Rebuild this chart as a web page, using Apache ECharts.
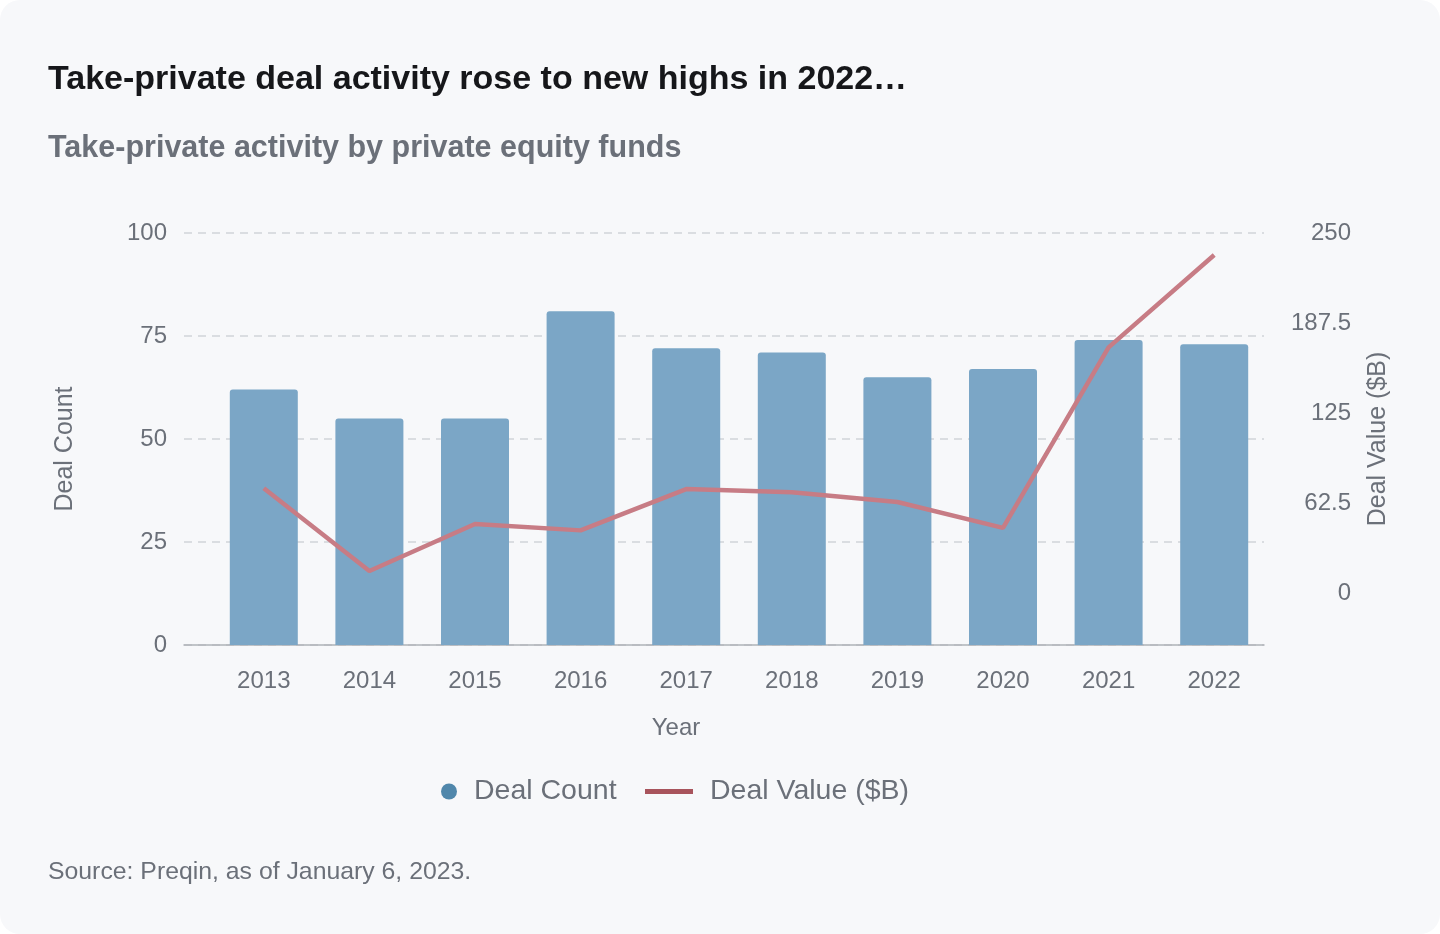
<!DOCTYPE html>
<html>
<head>
<meta charset="utf-8">
<script src="https://cdn.jsdelivr.net/npm/echarts@6/dist/echarts.min.js"></script>
<style>
  html, body { margin: 0; padding: 0; background: #ffffff; }
  #card { width: 1440px; height: 934px; background: #f7f8fa; border-radius: 20px; overflow: hidden; }
  #chart { width: 1440px; height: 934px; }
</style>
</head>
<body>
<div id="card"><div id="chart"></div></div>
<script>
const years = ['2013', '2014', '2015', '2016', '2017', '2018', '2019', '2020', '2021', '2022'];
const dealCount = [62, 55, 55, 81, 72, 71, 65, 67, 74, 73];
const dealValue = [72.7, 15.3, 47.9, 43.5, 72.2, 69.9, 63.2, 45.2, 170.6, 234.7];
const leftTicks = [0, 25, 50, 75, 100];
const rightTicks = [0, 62.5, 125, 187.5, 250];

const FONT = "'Liberation Sans', Arial, Helvetica, sans-serif";
const GRAY = '#6b7079';
const RIGHT_MIN = -36.1;

const chart = echarts.init(document.getElementById('chart'), null, { renderer: 'canvas' });
chart.setOption({
  backgroundColor: 'transparent',
  textStyle: { fontFamily: FONT },
  title: [
    { text: 'Take-private deal activity rose to new highs in 2022…', left: 48, top: 63, padding: 0,
      textStyle: { fontSize: 34, fontWeight: 'bold', color: '#16171a', fontFamily: FONT } },
    { text: 'Take-private activity by private equity funds', left: 48, top: 133, padding: 0,
      textStyle: { fontSize: 30.5, fontWeight: 'bold', color: GRAY, fontFamily: FONT } },
    { text: 'Source: Preqin, as of January 6, 2023.', left: 48, top: 860, padding: 0,
      textStyle: { fontSize: 24.8, fontWeight: 'normal', color: GRAY, fontFamily: FONT } }
  ],
  legend: [
    { data: [{ name: 'Deal Count', icon: 'circle', itemStyle: { color: '#5087ab' } }],
      left: 441, top: 777, padding: 0, itemWidth: 16, itemHeight: 16, selectedMode: false,
      textStyle: { fontSize: 28.5, color: GRAY, fontFamily: FONT, padding: [0, 0, 0, 12] } },
    { data: [{ name: 'Deal Value ($B)', icon: 'rect', itemStyle: { color: '#a8545c' } }],
      left: 645, top: 777, padding: 0, itemWidth: 48, itemHeight: 5, selectedMode: false,
      textStyle: { fontSize: 28.5, color: GRAY, fontFamily: FONT, padding: [0, 0, 0, 12] } }
  ],
  grid: [
    { left: 184, width: 1080, top: 233, height: 412, containLabel: false },
    { left: 211, width: 1056, top: 233, height: 412, containLabel: false }
  ],
  xAxis: [
    { type: 'value', gridIndex: 0, min: 0, max: 1,
      axisLine: { show: true, lineStyle: { color: '#aeb2b8', width: 1.5 } },
      axisTick: { show: false }, axisLabel: { show: false }, splitLine: { show: false } },
    { type: 'category', gridIndex: 1, data: years,
      axisLine: { show: false }, axisTick: { show: false },
      axisLabel: { fontSize: 24, color: GRAY, margin: 24, fontFamily: FONT },
      name: 'Year', nameLocation: 'middle', nameGap: 71,
      nameTextStyle: { fontSize: 24, color: GRAY, fontFamily: FONT, padding: [0, 126, 0, 0] } }
  ],
  yAxis: [
    { type: 'value', gridIndex: 0, position: 'left', min: 0, max: 100, interval: 25,
      axisLine: { show: false }, axisTick: { show: false },
      axisLabel: { fontSize: 24, color: GRAY, margin: 17, fontFamily: FONT, customValues: leftTicks },
      splitLine: { show: true, lineStyle: { color: '#d1d4d9', width: 1.5, type: [8, 6] } },
      name: 'Deal Count', nameLocation: 'middle', nameGap: 106,
      nameTextStyle: { fontSize: 25, color: GRAY, fontFamily: FONT, padding: [0, 20, 0, 0] } },
    { type: 'value', gridIndex: 0, position: 'right', min: RIGHT_MIN, max: 250,
      axisLine: { show: false }, axisTick: { show: false },
      axisLabel: { fontSize: 24, color: GRAY, margin: 87, align: 'right', fontFamily: FONT, customValues: rightTicks },
      splitLine: { show: false },
      name: 'Deal Value ($B)', nameLocation: 'middle', nameGap: 102,
      nameTextStyle: { fontSize: 25, color: GRAY, fontFamily: FONT } },
    { type: 'value', gridIndex: 1, min: 0, max: 100, show: false, splitLine: { show: false } },
    { type: 'value', gridIndex: 1, min: RIGHT_MIN, max: 250, show: false, splitLine: { show: false } }
  ],
  series: [
    { name: 'Deal Count', type: 'bar', xAxisIndex: 1, yAxisIndex: 2, data: dealCount,
      barWidth: 68, itemStyle: { color: '#7ba6c6', borderRadius: [3, 3, 0, 0] }, z: 2 },
    { name: 'Deal Value ($B)', type: 'line', xAxisIndex: 1, yAxisIndex: 3, data: dealValue,
      symbol: 'none', showSymbol: false, lineStyle: { color: '#c77c85', width: 4.5 },
      itemStyle: { color: '#c77c85' }, z: 3 }
  ]
});
</script>
</body>
</html>
